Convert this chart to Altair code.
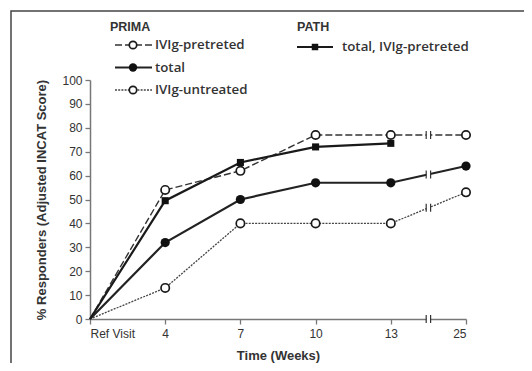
import altair as alt
import pandas as pd

# ---- data ----
x_labels = ["Ref Visit", "4", "7", "10", "13", "25"]
x_pos = [0, 1, 2, 3, 4, 5]
prima_pretreated = [0, 54, 62, 77, 77, 77]
prima_total = [0, 32, 50, 57, 57, 64]
prima_untreated = [0, 13, 40, 40, 40, 53]
path_total_pretreated = [0, 49.5, 65.5, 72, 73.5]

series = {
    "pre": prima_pretreated,
    "tot": prima_total,
    "unt": prima_untreated,
    "path": path_total_pretreated,
}
rows = []
for name, vals in series.items():
    for p, v in zip(x_pos, vals):
        rows.append({"s": name, "x": p, "y": v})
df = pd.DataFrame(rows)

# break positions on the 13 -> 25 segment (midway)
brk_rows = []
for name in ["pre", "tot", "unt"]:
    vals = series[name]
    brk_rows.append({"s": name, "x": 4.5, "y": (vals[4] + vals[5]) / 2})
brk_rows.append({"s": "axis", "x": 4.5, "y": 0})
brk = pd.DataFrame(brk_rows)

W, H = 376, 239
LINE = "#222"
TXT = "#333333"
FONT = "Liberation Sans"
LFONT = "Open Sans"

xlab_expr = "[" + ",".join("'" + l + "'" for l in x_labels) + "][datum.value]"

X = alt.X("x:Q", scale=alt.Scale(domain=[0, 5], nice=False),
          axis=alt.Axis(values=x_pos, labelExpr=xlab_expr, title="Time (Weeks)",
                        grid=False, tickSize=5, tickColor="#777", domainColor="#777",
                        domainWidth=1.5, tickWidth=1.3, labelFont=FONT, labelFontSize=12,
                        labelColor=TXT, labelPadding=4, titleFont=FONT, titleFontSize=13,
                        titleFontWeight="bold", titleColor=TXT, titlePadding=10))
Y = alt.Y("y:Q", scale=alt.Scale(domain=[0, 100], nice=False),
          axis=alt.Axis(values=list(range(0, 101, 10)), title="% Responders (Adjusted INCAT Score)",
                        grid=False, tickSize=5, tickColor="#777", domainColor="#777",
                        domainWidth=1.5, tickWidth=1.3, labelFont=FONT, labelFontSize=12,
                        labelColor=TXT, labelPadding=3, titleFont=FONT, titleFontSize=13,
                        titleFontWeight="bold", titleColor=TXT, titlePadding=13))

base = alt.Chart(df)


def sel(name, markers=False):
    c = base.transform_filter(alt.datum.s == name)
    if markers:
        c = c.transform_filter(alt.datum.x > 0)
    return c


l_pre = sel("pre").mark_line(color="#333", strokeWidth=1.4, strokeDash=[7, 3]).encode(x=X, y=Y)
l_unt = sel("unt").mark_line(color="#444", strokeWidth=1.3, strokeDash=[2, 1.2]).encode(x=X, y=Y)
l_tot = sel("tot").mark_line(color=LINE, strokeWidth=2.2).encode(x=X, y=Y)
l_path = sel("path").mark_line(color="#1a1a1a", strokeWidth=2.2).encode(x=X, y=Y)

p_pre = sel("pre", True).mark_point(shape="circle", filled=True, fill="white", stroke="#1a1a1a",
                                    strokeWidth=1.7, size=70, opacity=1).encode(x=X, y=Y)
p_unt = sel("unt", True).mark_point(shape="circle", filled=True, fill="white", stroke="#1a1a1a",
                                    strokeWidth=1.7, size=70, opacity=1).encode(x=X, y=Y)
p_tot = sel("tot", True).mark_point(shape="circle", filled=True, fill="#111", size=85,
                                    opacity=1).encode(x=X, y=Y)
p_path = sel("path", True).mark_point(shape="square", filled=True, fill="#111", size=50,
                                      opacity=1).encode(x=X, y=Y)

bbase = alt.Chart(brk)
gap = bbase.mark_point(shape="M-0.5,-1H0.5V1H-0.5Z", filled=True, fill="white",
                       strokeWidth=0, size=64, opacity=1).encode(x=X, y=Y)
bar1 = bbase.mark_point(shape="M0,-1V1", stroke="#333", strokeWidth=1.2, size=64,
                        opacity=1, xOffset=-2.2).encode(x=X, y=Y)
bar2 = bbase.mark_point(shape="M0,-1V1", stroke="#333", strokeWidth=1.2, size=64,
                        opacity=1, xOffset=2.2).encode(x=X, y=Y)

# ---- manual legend ----
one = alt.Chart(pd.DataFrame({"a": [0]}))


def ltext(txt, x, y, size=13.3, weight=600, font=LFONT):
    return one.mark_text(text=txt, align="left", baseline="middle", font=font,
                         fontSize=size, fontWeight=weight, color=TXT).encode(
        x=alt.value(x), y=alt.value(y))


def lline(x1, x2, y, **kw):
    return one.mark_rule(**kw).encode(x=alt.value(x1), x2=alt.value(x2), y=alt.value(y))


def lpt(x, y, **kw):
    return one.mark_point(opacity=1, **kw).encode(x=alt.value(x), y=alt.value(y))


legend = [
    ltext("PRIMA", 20, -53, size=12.5, weight="bold", font=FONT),
    ltext("PATH", 207, -53, size=12.5, weight="bold", font=FONT),
    lline(25, 62, -35, color="#333", strokeWidth=1.4, strokeDash=[7, 3]),
    lpt(43, -35, shape="circle", filled=True, fill="white", stroke="#1a1a1a", strokeWidth=1.7, size=55),
    ltext("IVIg-pretreted", 65, -35),
    lline(25, 62, -12.5, color=LINE, strokeWidth=2.2),
    lpt(43, -12.5, shape="circle", filled=True, fill="#111", size=70),
    ltext("total", 65, -12.5),
    lline(25, 62, 10, color="#444", strokeWidth=1.3, strokeDash=[2, 1.2]),
    lpt(43, 10, shape="circle", filled=True, fill="white", stroke="#1a1a1a", strokeWidth=1.7, size=55),
    ltext("IVIg-untreated", 65, 10),
    lline(207, 243, -33, color="#1a1a1a", strokeWidth=2.2),
    lpt(225, -33, shape="square", filled=True, fill="#111", size=42),
    ltext("total, IVIg-pretreted", 252, -33),
]

frame = one.mark_rect(filled=False, stroke="#444", strokeWidth=1.5).encode(
    x=alt.value(-79), y=alt.value(-69), x2=alt.value(W + 120), y2=alt.value(H + 120))

chart = alt.layer(
    frame, l_unt, l_pre, l_tot, l_path, gap, bar1, bar2, p_unt, p_pre, p_tot, p_path, *legend
).properties(
    width=W, height=H,
    autosize=alt.AutoSizeParams(type="none"),
    padding={"left": 82, "top": 72, "right": 58, "bottom": 44},
    background="white",
).configure_view(stroke=None)

chart.save("out.html", embed_options={"renderer": "svg", "actions": False})
